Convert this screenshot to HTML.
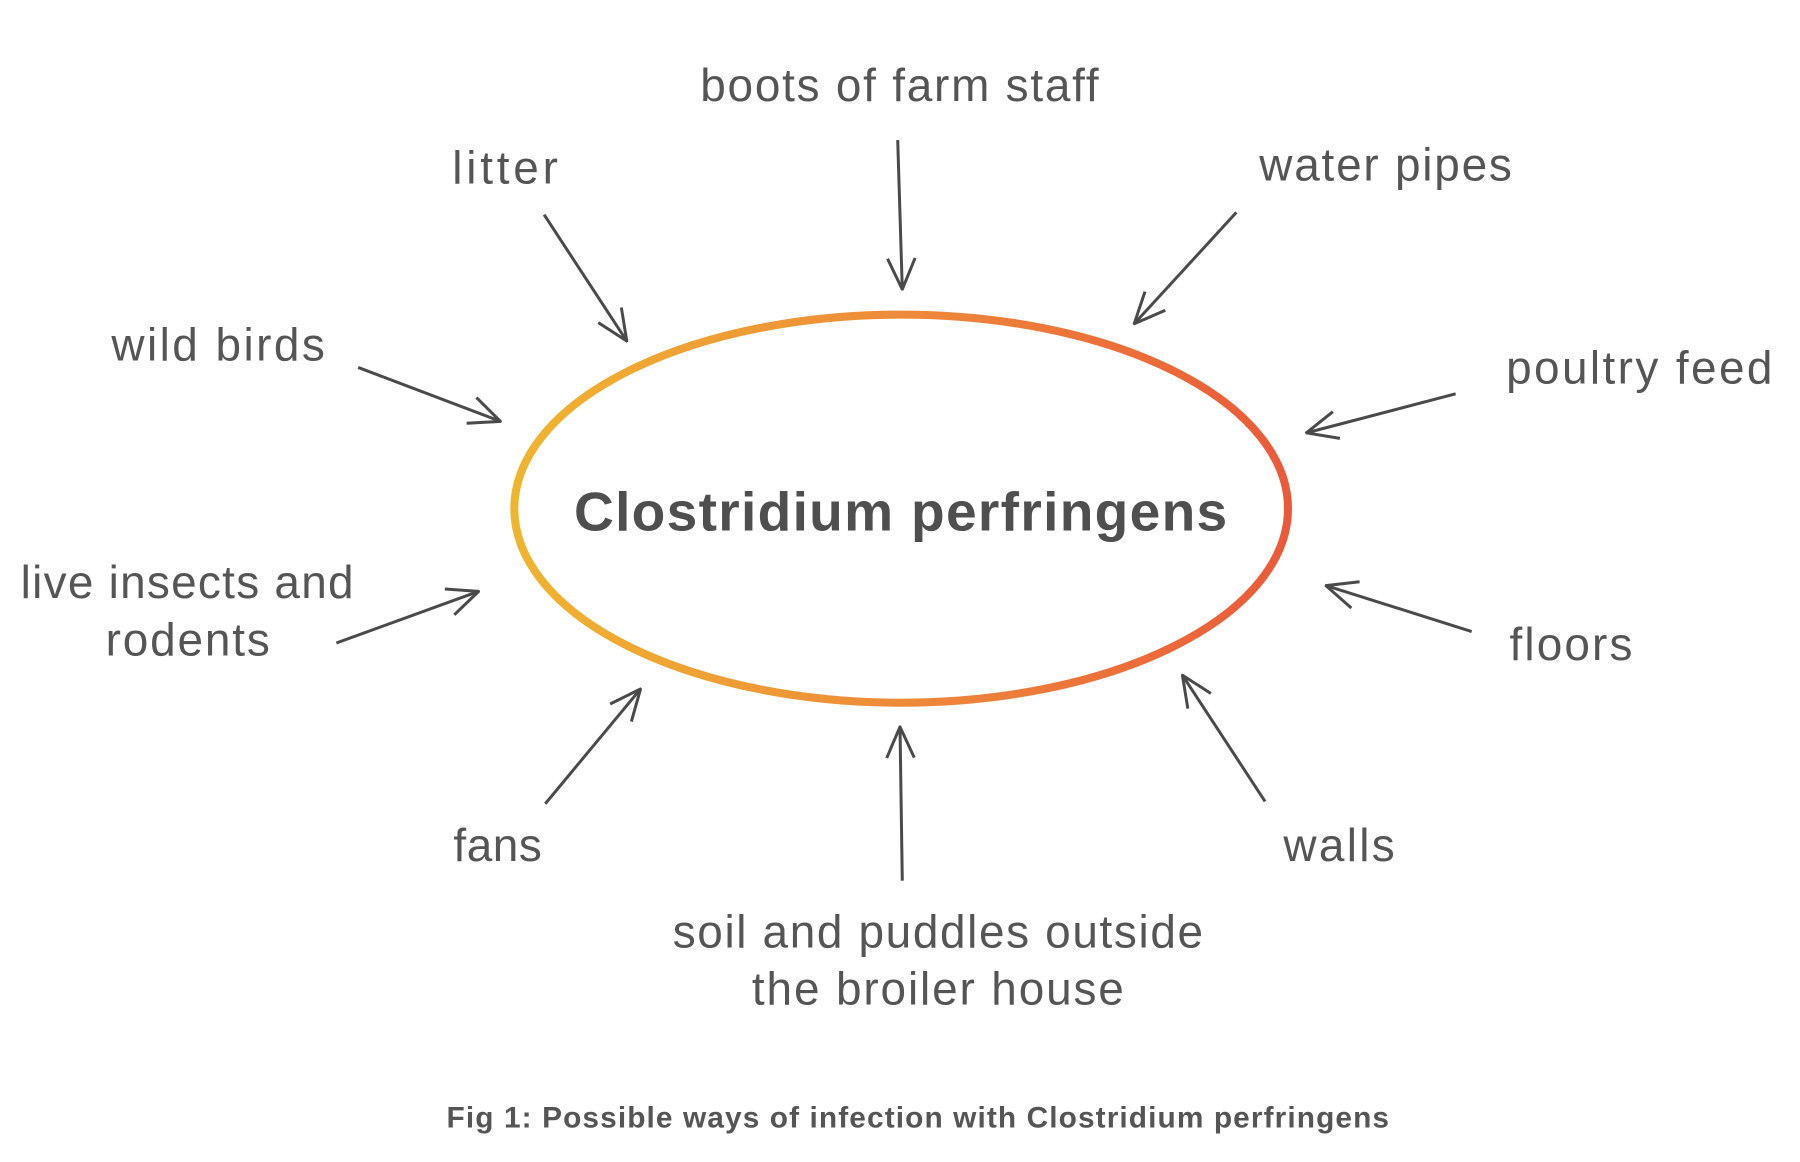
<!DOCTYPE html>
<html><head><meta charset="utf-8"><style>html,body{margin:0;padding:0;background:#fff}svg{display:block}</style></head>
<body>
<svg width="1800" height="1162" viewBox="0 0 1568 1012" preserveAspectRatio="none" xmlns="http://www.w3.org/2000/svg">
<defs>
<linearGradient id="g" x1="0" y1="0" x2="1" y2="0">
<stop offset="0" stop-color="#efb52f"/><stop offset="0.5" stop-color="#ee8a3a"/><stop offset="1" stop-color="#ea5a3a"/>
</linearGradient>
<marker id="a" viewBox="0 0 30 30" refX="29" refY="15" markerWidth="30" markerHeight="30" markerUnits="userSpaceOnUse" orient="auto">
<path d="M2,3 L29,15 L2,27" fill="none" stroke="#4a4a4a" stroke-width="2.6"/>
</marker>
</defs>
<ellipse cx="785" cy="443" rx="337" ry="169" fill="none" stroke="url(#g)" stroke-width="7"/>
<g stroke="#4a4a4a" stroke-width="2.6" fill="none" marker-end="url(#a)">
<line x1="782" y1="122" x2="786" y2="252"/>
<line x1="1077" y1="185" x2="988" y2="282"/>
<line x1="1268" y1="343" x2="1138" y2="377"/>
<line x1="1282" y1="550" x2="1155" y2="510"/>
<line x1="1102" y1="698" x2="1030" y2="588"/>
<line x1="786" y1="767" x2="784" y2="633"/>
<line x1="475" y1="700" x2="558" y2="600"/>
<line x1="293" y1="560" x2="417" y2="515"/>
<line x1="312" y1="320" x2="436" y2="367"/>
<line x1="474" y1="187" x2="546" y2="297"/>
</g>
<g font-family="Liberation Sans, sans-serif" font-size="40" fill="#555">
<text x="610" y="88" textLength="347">boots of farm staff</text>
<text x="394" y="160" textLength="92">litter</text>
<text x="1097" y="157" textLength="220">water pipes</text>
<text x="97" y="314" textLength="186">wild birds</text>
<text x="1312" y="334" textLength="232">poultry feed</text>
<text x="18" y="521" textLength="290">live insects and</text>
<text x="92" y="571" textLength="143">rodents</text>
<text x="1315" y="575" textLength="107">floors</text>
<text x="395" y="750" textLength="77">fans</text>
<text x="1118" y="750" textLength="97">walls</text>
<text x="586" y="825" textLength="462">soil and puddles outside</text>
<text x="655" y="875" textLength="324">the broiler house</text>
</g>
<text x="500" y="462" font-family="Liberation Sans, sans-serif" font-weight="bold" font-size="48" fill="#4f4f4f" textLength="569">Clostridium perfringens</text>
<text x="389" y="982" font-family="Liberation Sans, sans-serif" font-weight="bold" font-size="26" fill="#555" textLength="821">Fig 1: Possible ways of infection with Clostridium perfringens</text>
</svg>
</body></html>
